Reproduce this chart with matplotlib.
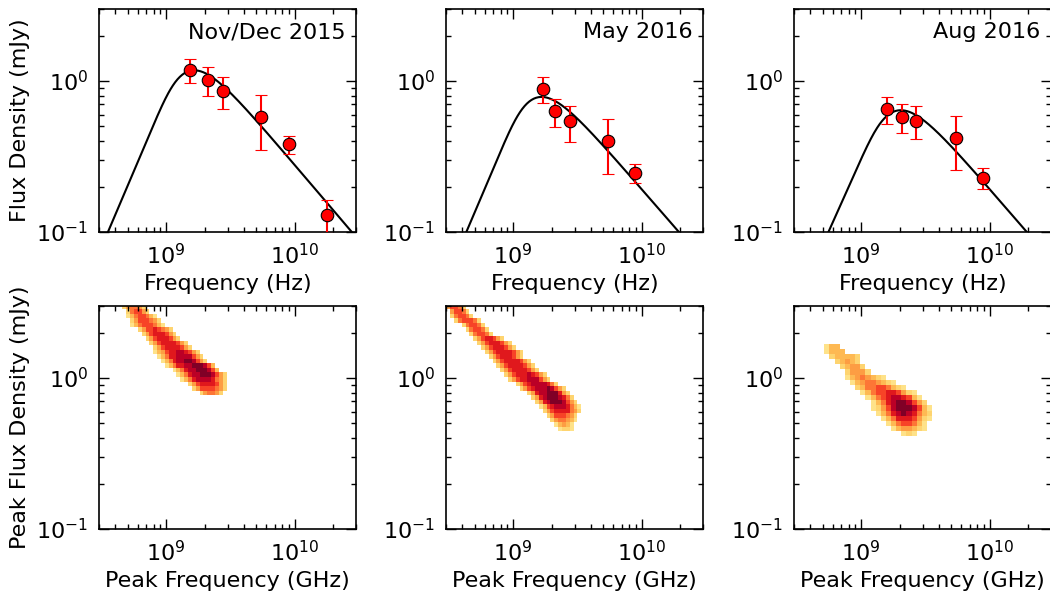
import numpy as np
import matplotlib
matplotlib.use('Agg')
import matplotlib.pyplot as plt
from matplotlib.colors import PowerNorm
from matplotlib.ticker import LogLocator, NullFormatter

plt.rcParams['axes.unicode_minus'] = False

# epochs
titles = ['Nov/Dec 2015', 'May 2016', 'Aug 2016']

# measured spectra (Hz, mJy)
freq_nov = [1.52e9, 2.1e9, 2.75e9, 5.5e9, 9.0e9, 1.8e10]
flux_nov = [1.19, 1.01, 0.86, 0.58, 0.38, 0.13]
err_nov = [0.22, 0.22, 0.21, 0.23, 0.05, 0.032]

freq_may = [1.7e9, 2.13e9, 2.78e9, 5.43e9, 8.94e9]
flux_may = [0.89, 0.63, 0.54, 0.40, 0.246]
err_may = [0.18, 0.135, 0.143, 0.157, 0.036]

freq_aug = [1.6e9, 2.08e9, 2.69e9, 5.45e9, 8.94e9]
flux_aug = [0.65, 0.578, 0.546, 0.42, 0.229]
err_aug = [0.132, 0.124, 0.133, 0.164, 0.035]

# best-fit peaked spectrum: nu_p, S_p, thick index, thin index
fit_nov = [1.51e9, 1.165, 2.0, -1.0]
fit_may = [1.51e9, 0.775, 2.0, -0.98]
fit_aug = [1.87e9, 0.635, 1.9, -0.985]

# posterior density of (peak freq, peak flux); rows from top, '.' = empty
# grid: [log10 x of first edge, log step x, log10 y of top edge, log step y]
grid_nov = [8.48, 0.03, 0.487, 0.03]
dens_nov = [
    '......245542',
    '.......256642',
    '.......13566531',
    '........24666542',
    '........135666531',
    '..........246676542',
    '...........246777642',
    '............246777642',
    '.............2467777642',
    '..............2467777642',
    '..............134677887642',
    '...............135778888642',
    '................135788998642',
    '.................1357788999863',
    '...................135788999863',
    '....................1357889998642',
    '.....................135788887542',
    '.......................2467777642',
    '........................246666542',
    '..........................245542',
]

grid_may = [8.48, 0.03, 0.487, 0.03]
dens_may = [
    '46652',
    '.46652',
    '.256652',
    '..2566652',
    '....256652',
    '.....256652',
    '......256652',
    '.......24677642',
    '........246777642',
    '.........246777642',
    '..........2467777642',
    '...........246777642',
    '............2467777642',
    '.............2467777642',
    '..............2467777642',
    '...............24677787642',
    '................24677888642',
    '..................24678888752',
    '...................246788898642',
    '.....................24788999742',
    '......................24789998752',
    '.......................24789998642',
    '........................13678887531',
    '.........................2467777542',
    '..........................24666542',
    '...........................2455431',
    '............................13431',
    '.............................1221',
]

grid_aug = [8.7125, 0.04, 0.2267, 0.034]
dens_aug = [
    '133',
    '1333',
    '.233332',
    '..23432',
    '...23442',
    '....24442',
    '....13454321',
    '.....134554321',
    '......2355665321',
    '.......13566776421',
    '........13567887631',
    '.........13578998642',
    '.........124689998631',
    '..........13578987532',
    '...........1357776421',
    '............13566531',
    '.............1344321',
    '...............121',
]

spectra = [(freq_nov, flux_nov, err_nov, fit_nov),
           (freq_may, flux_may, err_may, fit_may),
           (freq_aug, flux_aug, err_aug, fit_aug)]
densities = [(grid_nov, dens_nov), (grid_may, dens_may), (grid_aug, dens_aug)]


def peaked(nu, nu_p, s_p, k, l):
    x = nu / nu_p
    return s_p * x**k * (1 - np.exp(-x**(l - k))) / (1 - np.exp(-1))


def style(ax):
    ax.set_xscale('log')
    ax.set_yscale('log')
    ax.set_xlim(3e8, 3e10)
    ax.set_ylim(0.1, 3)
    ax.xaxis.set_major_locator(LogLocator(base=10))
    ax.xaxis.set_minor_locator(LogLocator(base=10, subs=np.arange(2, 10)))
    ax.yaxis.set_minor_locator(LogLocator(base=10, subs=np.arange(2, 10)))
    ax.xaxis.set_minor_formatter(NullFormatter())
    ax.yaxis.set_minor_formatter(NullFormatter())
    ax.tick_params(which='both', direction='in', top=True, right=True,
                   labelsize=16, width=1)
    ax.tick_params(which='major', length=7, pad=8)
    ax.tick_params(which='minor', length=3.5)
    for s in ax.spines.values():
        s.set_linewidth(1.2)


fig = plt.figure(figsize=(10.5, 5.99), dpi=100)
W, H = 1050.0, 599.0
lefts = [99, 446, 794]
aw, ah = 257, 223

cmap = plt.get_cmap('YlOrRd')
norm = PowerNorm(gamma=1.5, vmin=-3, vmax=9)
nu = np.logspace(8, 11, 500)

for i in range(3):
    # top row: spectra
    ax = fig.add_axes([lefts[i] / W, (H - 232) / H, aw / W, ah / H])
    f, s, e, p = spectra[i]
    ax.plot(nu, peaked(nu, *p), color='black', lw=1.5)
    ax.errorbar(f, s, yerr=e, fmt='o', color='red', ecolor='red',
                mec='black', mew=0.8, ms=9, capsize=4, elinewidth=1.5,
                capthick=1.5, zorder=3)
    style(ax)
    ax.text(0.96, 0.94, titles[i], transform=ax.transAxes, ha='right',
            va='top', fontsize=16)
    ax.set_xlabel('Frequency (Hz)', fontsize=16)
    if i == 0:
        ax.set_ylabel('Flux Density (mJy)', fontsize=16)

    # bottom row: posterior density
    ax = fig.add_axes([lefts[i] / W, (H - 529) / H, aw / W, ah / H])
    g, rows = densities[i]
    ncol = max(len(r) for r in rows)
    z = np.array([[0 if c == '.' else int(c) for c in r.ljust(ncol, '.')]
                  for r in rows], dtype=float)
    z = np.ma.masked_equal(z, 0)
    xe = 10 ** (g[0] + g[1] * np.arange(ncol + 1))
    ye = 10 ** (g[2] - g[3] * np.arange(len(rows) + 1))
    ax.pcolormesh(xe, ye, z, cmap=cmap, norm=norm, shading='flat')
    style(ax)
    ax.set_xlabel('Peak Frequency (GHz)', fontsize=16)
    if i == 0:
        ax.set_ylabel('Peak Flux Density (mJy)', fontsize=16)

fig.savefig('out.png', dpi=100)
